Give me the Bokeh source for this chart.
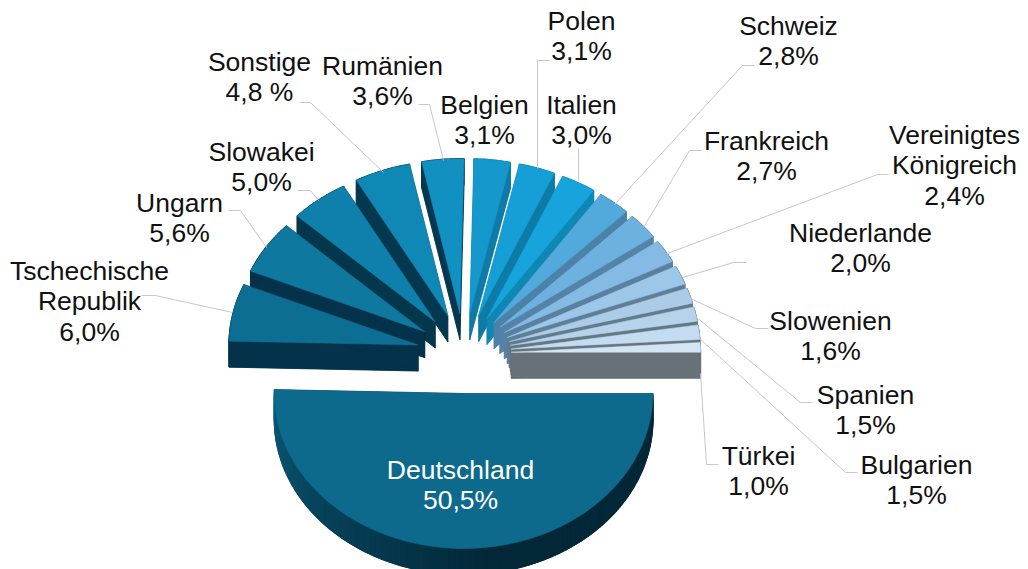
import math
from bokeh.plotting import figure
from bokeh.models import Range1d
from bokeh.core.properties import value
from bokeh.embed import file_html
from bokeh.resources import INLINE

# data, clockwise from 3 o'clock
countries = ["Deutschland", "Tschechische Republik", "Ungarn", "Slowakei", "Sonstige", "Rumänien",
             "Belgien", "Polen", "Italien", "Schweiz", "Frankreich", "Vereinigtes Königreich",
             "Niederlande", "Slowenien", "Spanien", "Bulgarien", "Türkei"]
shares = [50.5, 6.0, 5.6, 5.0, 4.8, 3.6, 3.1, 3.1, 3.0, 2.8, 2.7, 2.4, 2.0, 1.6, 1.5, 1.5, 1.0]

# styles
tops = ["#0d6a8c", "#0d6e94", "#0e789f", "#0f80ab", "#1088b6", "#1190c2", "#1598cc", "#169fd6", "#17a3dc",
        "#52a9db", "#6cb1df", "#84bae4", "#9cc7e8", "#abcbe6", "#b6d3ec", "#c4dcf1", "#d3e5f4"]
walls = ["#03283a", "#03324a", "#03324a", "#04364c", "#04384e", "#04384e", "#0e7ba6", "#0e7ba6", "#0f87b5",
         "#4c82a8", "#5583a8", "#5a80a0", "#5d7f99", "#617b8e", "#647884", "#66757e", "#677278"]

# label lines: centre x, first line centre y
labels = [
    (["Deutschland", "50,5%"], 460, 469),
    (["Tschechische", "Republik", "6,0%"], 89, 270),
    (["Ungarn", "5,6%"], 179, 202),
    (["Slowakei", "5,0%"], 261, 151),
    (["Sonstige", "4,8 %"], 259, 61),
    (["Rumänien", "3,6%"], 382, 65),
    (["Belgien", "3,1%"], 484, 104),
    (["Polen", "3,1%"], 581, 20),
    (["Italien", "3,0%"], 581, 104),
    (["Schweiz", "2,8%"], 788, 25),
    (["Frankreich", "2,7%"], 766, 140),
    (["Vereinigtes", "Königreich", "2,4%"], 954, 134),
    (["Niederlande", "2,0%"], 860, 232),
    (["Slowenien", "1,6%"], 830, 320),
    (["Spanien", "1,5%"], 865, 394),
    (["Bulgarien", "1,5%"], 916, 464),
    (["Türkei", "1,0%"], 758, 455),
]
leaders = [
    [(232, 312), (155, 295), (141, 295)],
    [(266, 247), (240, 210), (228, 210)],
    [(318, 200), (310, 190), (297, 190)],
    [(383, 172), (310, 102), (299, 102)],
    [(443, 160), (429, 104), (418, 104)],
    [(537, 168), (537, 60), (549, 60)],
    [(578, 180), (578, 148)],
    [(614, 204), (742, 65), (754, 65)],
    [(643, 227), (689, 150), (701, 150)],
    [(667, 253), (877, 174), (888, 174)],
    [(682, 277), (733, 262), (746, 262)],
    [(690, 298), (755, 328), (768, 328)],
    [(695, 316), (800, 402), (812, 402)],
    [(698, 337), (845, 472), (857, 472)],
    [(700, 373), (706, 464), (718, 464)],
]

CX, CY = 463.7, 353.0      # pie centre in page px
RX, RY = 189.3, 155.0      # face radii
EX, EY = 47.0, 40.0        # explosion
DEPTH = 26.0

p = figure(width=1028, height=569, x_range=Range1d(0, 1028), y_range=Range1d(569, 0),
           output_backend="svg", toolbar_location=None, min_border=0, outline_line_color=None)
p.axis.visible = False
p.grid.visible = False

# angular span of every slice from its share
total = sum(shares)
spans, acc = [], 0.0
for s in shares:
    a0 = acc / total * 2 * math.pi
    acc += s
    spans.append((a0, acc / total * 2 * math.pi))


def mix(c1, c2, t):
    a = [int(c1[i:i + 2], 16) for i in (1, 3, 5)]
    b = [int(c2[i:i + 2], 16) for i in (1, 3, 5)]
    return "#" + "".join(f"{round(x + (y - x) * t):02x}" for x, y in zip(a, b))


def draw_slice(i):
    a0, a1 = spans[i]
    mid = (a0 + a1) / 2
    ox = CX + EX * math.cos(mid)
    oy = CY + EY * math.sin(mid)
    n = max(8, int((a1 - a0) * 60))
    ang = [a0 + (a1 - a0) * k / n for k in range(n + 1)]
    xs = [ox + RX * math.cos(t) for t in ang]
    ys = [oy + RY * math.sin(t) for t in ang]
    wall = walls[i]
    # walls: floor, both cut faces, then the rim
    p.patch([ox] + xs, [oy + DEPTH] + [y + DEPTH for y in ys], color=wall, line_width=0.5)
    for ex, ey in ((xs[0], ys[0]), (xs[-1], ys[-1])):
        p.patch([ox, ex, ex, ox], [oy, ey, ey + DEPTH, oy + DEPTH], color=wall, line_width=0.5)
    for k in range(n):
        col = wall
        if i == 0:  # Deutschland rim fades to lighter teal at its left end
            t = k / n
            col = mix("#032838", "#0b5876", max(0.0, (t - 0.45) / 0.55))
        p.patch([xs[k], xs[k + 1], xs[k + 1], xs[k]],
                [ys[k], ys[k + 1], ys[k + 1] + DEPTH, ys[k] + DEPTH], color=col, line_width=1.2)
    p.patch([ox] + xs, [oy] + ys, color=tops[i], line_width=0.5)


# painter's order: left back-to-front, right back-to-front, then the big front slice
for i in [5, 4, 3, 2, 1, 6, 7, 8, 9, 10, 11, 12, 13, 14, 15, 16, 0]:
    draw_slice(i)

for pts in leaders:
    p.line([q[0] for q in pts], [q[1] for q in pts], line_color="#c8c8c8", line_width=1)

LINE_H = 30.5
for lines, x, y in labels:
    colour = "#ffffff" if lines[0] == "Deutschland" else "#111111"
    for j, t in enumerate(lines):
        p.text([x], [y + j * LINE_H], text=[t], text_align="center", text_baseline="middle",
               text_font=value("Liberation Sans"), text_font_size="26.5px", text_color=colour)

open("out.html", "w").write(file_html(p, INLINE))
